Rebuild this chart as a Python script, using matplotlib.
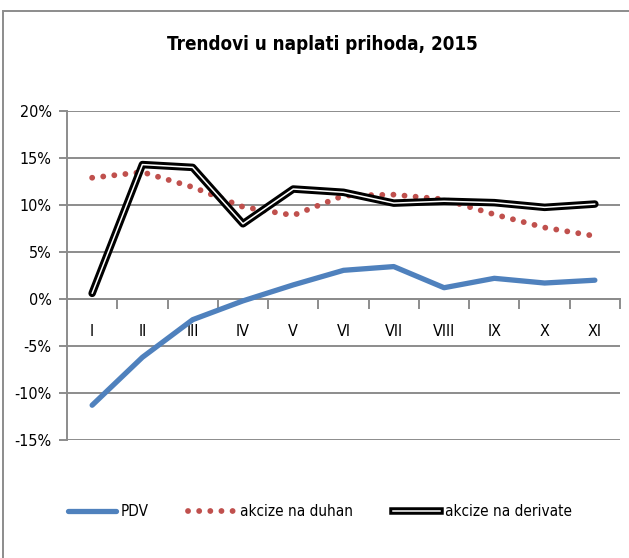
import matplotlib
matplotlib.use("Agg")
import matplotlib.pyplot as plt
import matplotlib.patheffects as pe
from matplotlib.lines import Line2D
from matplotlib.patches import Rectangle
from matplotlib.ticker import FixedLocator, FuncFormatter

plt.rcParams['font.family'] = ['DejaVu Sans']
plt.rcParams['font.stretch'] = 'condensed'

# data (percent)
months = ['I', 'II', 'III', 'IV', 'V', 'VI', 'VII', 'VIII', 'IX', 'X', 'XI']
pdv = [-11.3, -6.2, -2.2, -0.2, 1.5, 3.05, 3.45, 1.2, 2.2, 1.7, 2.0]
duhan = [12.9, 13.5, 11.9, 9.8, 8.9, 11.0, 11.1, 10.6, 9.0, 7.6, 6.7]
derivate = [0.6, 14.3, 14.0, 8.0, 11.7, 11.35, 10.2, 10.4, 10.25, 9.75, 10.1]

title = 'Trendovi u naplati prihoda, 2015'
labels = ['PDV', 'akcize na duhan', 'akcize na derivate']

blue = '#4F81BD'
red = '#C0504D'
grid_col = '#8c8c8c'

fig = plt.figure(figsize=(6.29, 5.58), dpi=100)
ax = fig.add_axes([67/629, 1 - 440/558, (620 - 67)/629, (440 - 111)/558])

x = list(range(len(months)))

# gridlines
for v in range(-15, 21, 5):
    ax.axhline(v, color=grid_col, lw=1.4, zorder=1)

dots = (0, (0.01, 1.9))
ax.plot(x, pdv, color=blue, lw=3.8, solid_capstyle='round', solid_joinstyle='round', zorder=3)
ax.plot(x, duhan, color=red, lw=4.2, linestyle=dots, dash_capstyle='round', zorder=3)
deriv_fx = [pe.Stroke(linewidth=5.4, foreground='black'), pe.Normal()]
ax.plot(x, derivate, color='white', lw=1.1, zorder=4,
        solid_joinstyle='round', solid_capstyle='round', path_effects=deriv_fx)

ax.set_xlim(-0.5, len(months) - 0.5)
ax.set_ylim(-15, 20)

for s in ['top', 'right']:
    ax.spines[s].set_visible(False)
ax.spines['left'].set_color(grid_col)
ax.spines['left'].set_linewidth(1.4)
ax.spines['bottom'].set_position(('data', 0))
ax.spines['bottom'].set_color(grid_col)
ax.spines['bottom'].set_linewidth(1.4)

ax.set_yticks(range(-15, 21, 5))
ax.yaxis.set_major_formatter(FuncFormatter(lambda v, p: f'{int(v)}%'))
ax.tick_params(axis='y', length=6, width=1.4, color=grid_col, pad=5, labelsize=11.5)

ax.set_xticks(x)
ax.set_xticklabels(months)
ax.xaxis.set_minor_locator(FixedLocator([i + 0.5 for i in range(-1, len(months))]))
ax.tick_params(axis='x', which='major', length=0, pad=18, labelsize=11.5)
ax.tick_params(axis='x', which='minor', length=7, width=1.4, color=grid_col)

fig.text(322/629, 1 - 44/558, title, ha='center', va='center',
         fontsize=13.5, fontweight='bold')

handles = [
    Line2D([], [], color=blue, lw=3.8, solid_capstyle='round'),
    Line2D([], [], color=red, lw=4.2, linestyle=dots, dash_capstyle='round'),
    Line2D([], [], color='white', lw=1.1, path_effects=deriv_fx),
]
fig.legend(handles, labels, loc='center', bbox_to_anchor=(320/629, 1 - 512/558),
           ncol=3, frameon=False, fontsize=11, handlelength=3.1,
           handletextpad=0.3, columnspacing=2.6)

# chart border
fig.patches.append(Rectangle((3/629, -0.1), 1.2, 1 - 11/558 + 0.1,
                             transform=fig.transFigure, fill=False,
                             edgecolor='#8c8c8c', lw=1.4))

fig.savefig('out.png', dpi=100)
